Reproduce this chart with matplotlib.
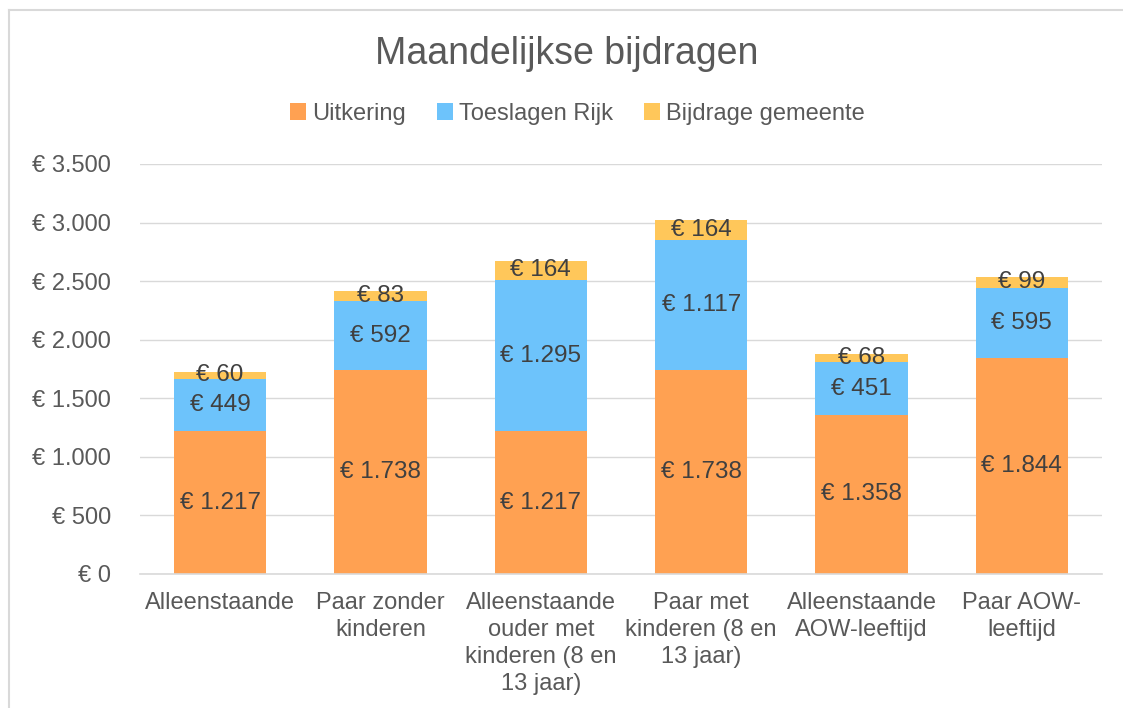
import matplotlib
matplotlib.use("Agg")
import matplotlib.pyplot as plt
from matplotlib.lines import Line2D
import numpy as np

plt.rcParams["font.family"] = ["Liberation Sans", "DejaVu Sans"]

categories = [
    "Alleenstaande",
    "Paar zonder\nkinderen",
    "Alleenstaande\nouder met\nkinderen (8 en\n13 jaar)",
    "Paar met\nkinderen (8 en\n13 jaar)",
    "Alleenstaande\nAOW-leeftijd",
    "Paar AOW-\nleeftijd",
]
uitkering = [1217, 1738, 1217, 1738, 1358, 1844]
toeslagen = [449, 592, 1295, 1117, 451, 595]
gemeente = [60, 83, 164, 164, 68, 99]
series_names = ["Uitkering", "Toeslagen Rijk", "Bijdrage gemeente"]
yticks = [0, 500, 1000, 1500, 2000, 2500, 3000, 3500]

colours = ["#FFA152", "#6DC3FB", "#FFC75A"]
GREY_TEXT = "#595959"
LABEL_TEXT = "#404040"


def euro(v):
    return "€ " + f"{v:,.0f}".replace(",", ".")


W, H = 1123, 708
fig = plt.figure(figsize=(W / 100, H / 100), dpi=100)
ax = fig.add_axes([140 / W, 1 - 574 / H, (1102 - 140) / W, (574 - 164) / H])

x = np.arange(len(categories))
bottom = np.zeros(len(categories))
for name, vals, col in zip(series_names, [uitkering, toeslagen, gemeente], colours):
    vals = np.array(vals, dtype=float)
    ax.bar(x, vals, 0.575, bottom=bottom, color=col, label=name, zorder=2)
    for xi, b, v in zip(x, bottom, vals):
        ax.text(xi, b + v / 2, euro(v), ha="center", va="center",
                fontsize=17.5, color=LABEL_TEXT, zorder=3)
    bottom += vals

ax.set_xlim(-0.5, len(categories) - 0.5)
ax.set_ylim(0, 3500)
ax.set_yticks(yticks)
ax.set_yticklabels([euro(v) for v in yticks])
ax.grid(axis="y", color="#D9D9D9", linewidth=1, zorder=0)
for side in ["top", "right", "left"]:
    ax.spines[side].set_visible(False)
ax.spines["bottom"].set_color("#D9D9D9")
ax.spines["bottom"].set_linewidth(1.2)
ax.tick_params(axis="both", length=0, labelsize=17, colors=GREY_TEXT)
ax.tick_params(axis="y", pad=21)
ax.tick_params(axis="x", pad=13)
ax.set_xticks(x)
ax.set_xticklabels(categories, linespacing=1.3, va="top")

fig.text(0.505, 1 - 54 / H, "Maandelijkse bijdragen", ha="center", va="center",
         fontsize=27, color=GREY_TEXT)
fig.legend(loc="center", bbox_to_anchor=(0.514, 1 - 114 / H), ncol=3,
           frameon=False, fontsize=17, labelcolor=GREY_TEXT,
           handlelength=0.7, handleheight=0.7, handletextpad=0.25,
           columnspacing=1.3)

# chart frame (cut off at right and bottom)
fig.add_artist(Line2D([8.5 / W, 8.5 / W], [0, 1 - 10 / H], color="#D9D9D9", lw=1.5))
fig.add_artist(Line2D([8.5 / W, 1], [1 - 10 / H, 1 - 10 / H], color="#D9D9D9", lw=1.5))

fig.savefig("out.png", dpi=100)
